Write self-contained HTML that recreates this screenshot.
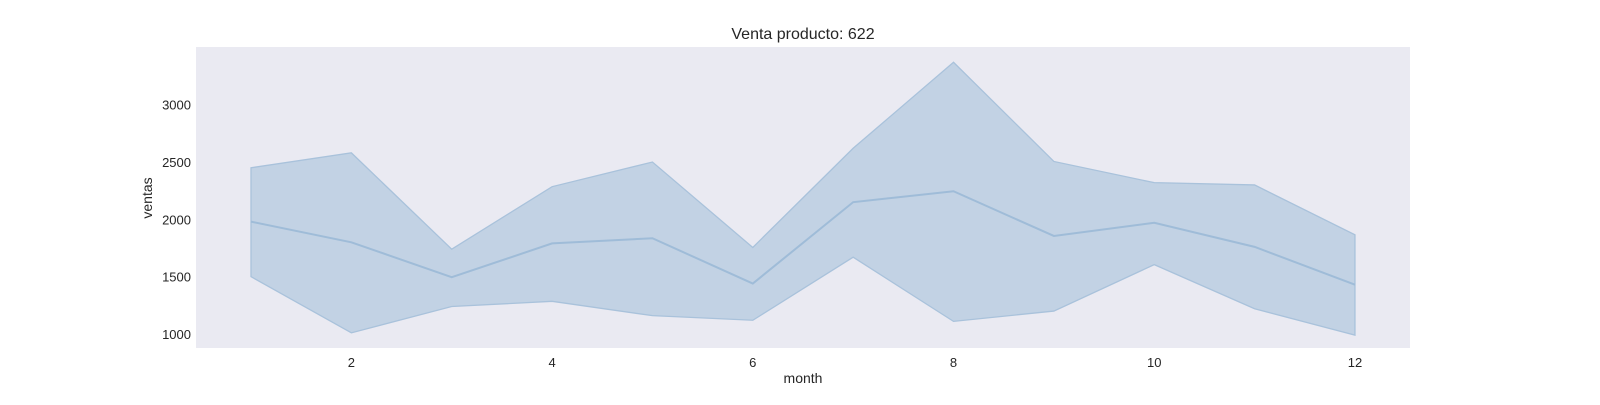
<!DOCTYPE html>
<html><head><meta charset="utf-8"><style>body{margin:0;background:#fff}svg text{font-family:"Liberation Sans",Arial,sans-serif;fill:#262626}</style></head>
<body>
<svg id="chart" width="1600" height="400" xmlns="http://www.w3.org/2000/svg">
<rect x="196" y="47" width="1214" height="301" fill="#eaeaf2"/>
<text x="803" y="39" text-anchor="middle" font-size="16">Venta producto: 622</text>
<text x="803" y="383" text-anchor="middle" font-size="14">month</text>
<text transform="translate(152,198) rotate(-90)" text-anchor="middle" font-size="14">ventas</text>
<g id="ticks"></g>
<g id="marks"></g>
</svg>
<script>
const months=[1,2,3,4,5,6,7,8,9,10,11,12];
const meanSales=[1980,1800,1495,1790,1835,1440,2150,2245,1855,1970,1760,1430];
const upperSales=[2450,2580,1740,2285,2500,1755,2620,3370,2505,2320,2300,1865];
const lowerSales=[1500,1010,1240,1285,1160,1120,1670,1110,1200,1605,1220,990];
const xTicks=[2,4,6,8,10,12];
const yTicks=[1000,1500,2000,2500,3000];
const xs=m=>251+(m-1)*100.36;
const ys=v=>334-(v-1000)*0.11465;
const NS='http://www.w3.org/2000/svg';
const ticks=document.getElementById('ticks'),marks=document.getElementById('marks');
xTicks.forEach(t=>{const e=document.createElementNS(NS,'text');


e.setAttribute('x',xs(t));e.setAttribute('y',367);e.setAttribute('text-anchor','middle');e.setAttribute('font-size','13');e.textContent=t;ticks.appendChild(e);});
yTicks.forEach(t=>{const e=document.createElementNS(NS,'text');


e.setAttribute('x',191);e.setAttribute('y',ys(t)+5);e.setAttribute('text-anchor','end');e.setAttribute('font-size','13');e.textContent=t;ticks.appendChild(e);});
let pts=months.map((m,i)=>xs(m)+','+ys(upperSales[i]));
for(let i=months.length-1;i>=0;i--)pts.push(xs(months[i])+','+ys(lowerSales[i]));
const band=document.createElementNS(NS,'polygon');


band.setAttribute('points',pts.join(' '));band.setAttribute('fill','#c2d2e4');band.setAttribute('stroke','#a9c2db');band.setAttribute('stroke-width','1.3');
marks.appendChild(band);
const line=document.createElementNS(NS,'polyline');


line.setAttribute('points',months.map((m,i)=>xs(m)+','+ys(meanSales[i])).join(' '));
line.setAttribute('fill','none');line.setAttribute('stroke','#9fbcd8');line.setAttribute('stroke-width','2');
marks.appendChild(line);
</script>
</body></html>
